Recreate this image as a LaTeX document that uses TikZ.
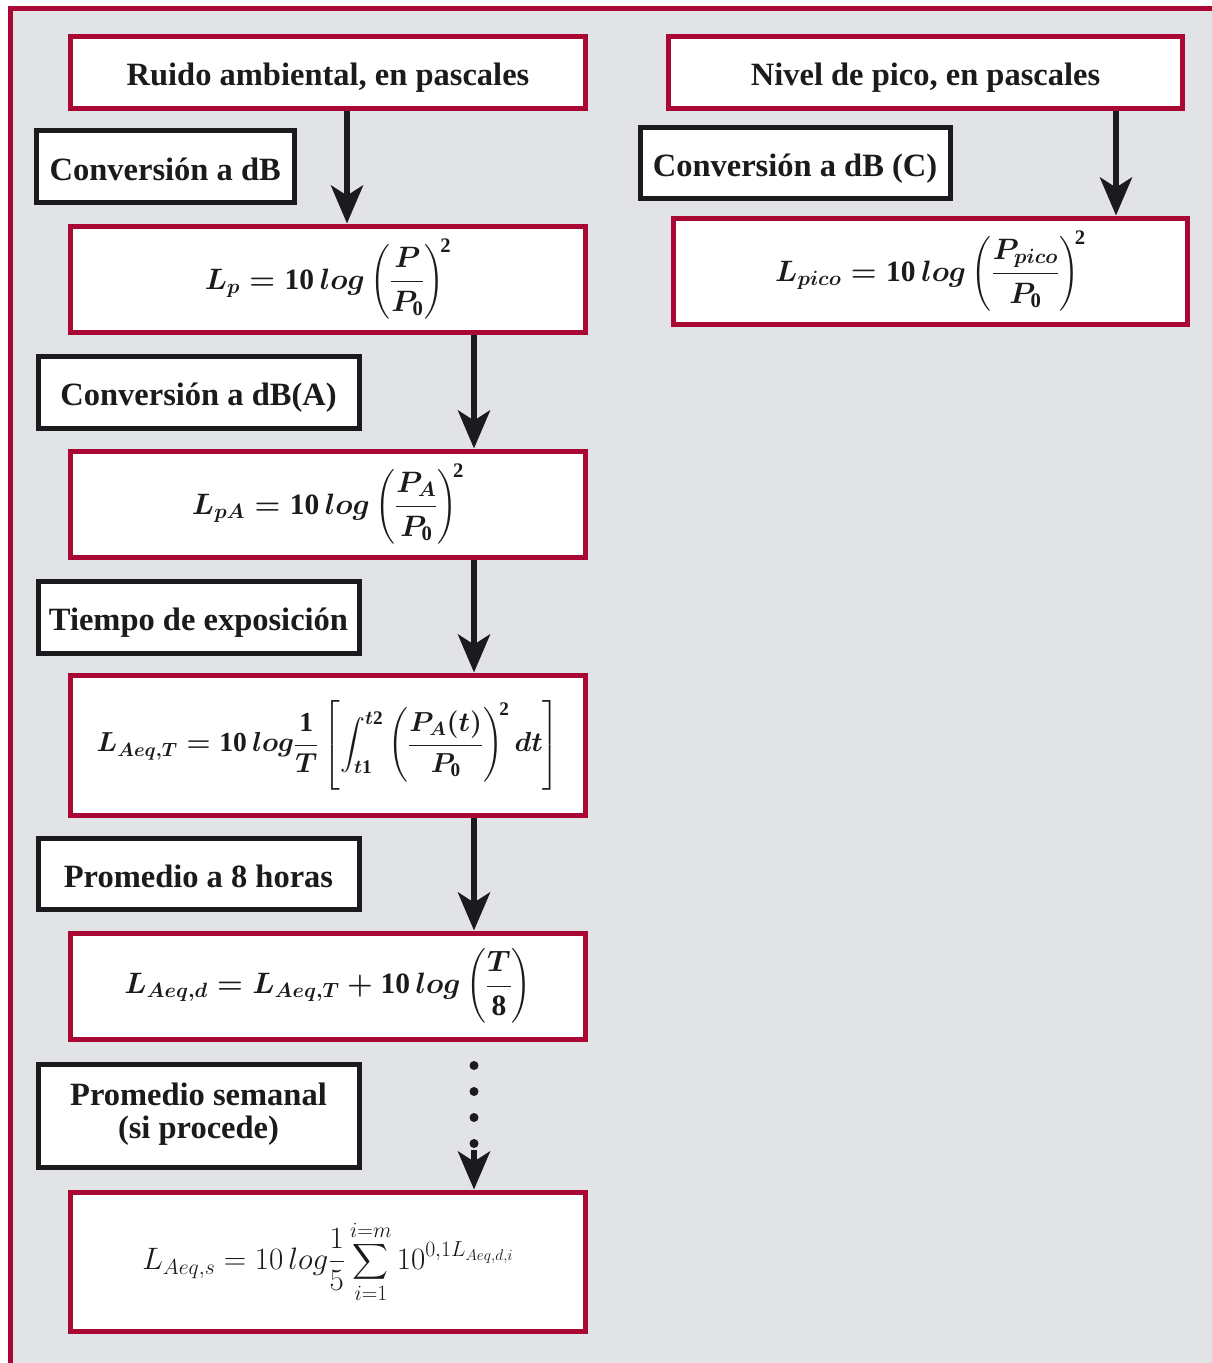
\RequirePackage{fix-cm}
\documentclass[tikz,border=0pt]{standalone}
\usepackage{exscale}
\usepackage{amsmath}
\usepackage[no-math]{fontspec}
\newfontfamily\lblserif{Liberation Serif}
\usetikzlibrary{arrows.meta,calc}
\definecolor{framered}{RGB}{170,8,52}
\definecolor{bggrey}{RGB}{226,227,230}
\definecolor{ink}{RGB}{28,26,28}
\newcommand\lblfont{\lblserif\fontsize{32.5}{32}\selectfont\bfseries}
\newcommand\mfont{\fontsize{29.5}{36}\selectfont\boldmath}
\newcommand\mfontT{\fontsize{27.5}{34}\selectfont\boldmath}
\newcommand\mfontr{\fontsize{31}{36}\selectfont}
\newcommand\bn[1]{\text{\lblserif\bfseries #1}}
\pgfdeclarelayer{bglayer}
\pgfdeclarelayer{arrlayer}
\pgfsetlayers{bglayer,arrlayer,main}
\begin{document}
\begin{tikzpicture}[x=1pt,y=-1pt,
  redbox/.style={draw=framered, line width=5pt, fill=white, inner sep=0pt, text=ink, font=\mfont},
  lblbox/.style={draw=ink, line width=5pt, fill=white, inner sep=0pt, text=ink, font=\lblfont, align=center},
  onelinetext/.style={text height=27pt, text depth=0pt},
  titlebox/.style={redbox, font=\lblfont, onelinetext},
  flow/.style={draw=ink, line width=6pt, -{Stealth[length=38pt,width=32pt,inset=10pt]}},
  dotline/.style={draw=ink, line width=9pt, line cap=round, dash pattern=on 0pt off 26pt, dash phase=2pt},
]
\useasboundingbox (0,0) rectangle (1212,1363);
\begin{pgfonlayer}{bglayer}
  \fill[white] (0,0) rectangle (1212,1363);
  \fill[bggrey] (10,8.5) rectangle (1212,1363);
  \draw[framered, line width=5pt] (10,1363) -- (10,8.5) -- (1212,8.5);
\end{pgfonlayer}

% column coordinates
\coordinate (colA) at (347,0);
\coordinate (colB) at (474,0);
\coordinate (colC) at (1116,0);
\coordinate (dotend) at (474,1150);

% left column
\node[titlebox, minimum width=515pt, minimum height=71.5pt] (ruido) at (328,72.25) {Ruido ambiental, en pascales};
\node[lblbox, onelinetext, minimum width=258.5pt, minimum height=72pt] (convdb) at (165.25,166.5) {Conversión a dB};
\node[redbox, minimum width=515pt, minimum height=106pt] (lp) at (328,279)
  {$\displaystyle L_p = \bn{10}\,log\left(\frac{P}{P_{\bn{0}}}\right)^{\!\bn{2}}$};
\node[lblbox, onelinetext, minimum width=321pt, minimum height=72pt] (convA) at (198.5,392) {Conversión a dB(A)};
\node[redbox, minimum width=515pt, minimum height=106pt] (lpa) at (328,504)
  {$\displaystyle L_{pA} = \bn{10}\,log\left(\frac{P_A}{P_{\bn{0}}}\right)^{\!\bn{2}}$};
\node[lblbox, onelinetext, minimum width=321pt, minimum height=72pt] (tiempo) at (198.5,617) {Tiempo de exposición};
\node[redbox, font=\mfontT, minimum width=515pt, minimum height=140pt] (laeqt) at (328,745)
  {$\displaystyle L_{Aeq,T} = \bn{10}\,log\frac{\bn{1}}{T}\left[\int_{t\bn{1}}^{t\bn{2}}\left(\frac{P_A(t)}{P_{\bn{0}}}\right)^{\!\bn{2}} dt\right]$};
\node[lblbox, onelinetext, minimum width=321pt, minimum height=71pt] (prom8) at (198.5,873.5) {Promedio a 8 horas};
\node[redbox, minimum width=515pt, minimum height=106pt] (laeqd) at (328,986)
  {$\displaystyle L_{Aeq,d} = L_{Aeq,T} + \bn{10}\,log\left(\frac{T}{\bn{8}}\right)$};
\node[lblbox, minimum width=321pt, minimum height=103pt] (semanal) at (198.5,1115.5)
  {\raisebox{-4pt}{\begin{tabular}{@{}c@{}}Promedio semanal\\(si procede)\end{tabular}}};
\node[redbox, font=\mfontr, minimum width=515pt, minimum height=139pt] (laeqs) at (328,1261.5)
  {$\displaystyle L_{Aeq,s} = 10\,log\frac{1}{5}\sum_{i=1}^{i=m} 10^{0{,}1L_{Aeq,d,i}}$};

% right column
\node[titlebox, minimum width=514pt, minimum height=71.5pt] (nivel) at (925.5,72.25) {Nivel de pico, en pascales};
\node[lblbox, onelinetext, minimum width=310pt, minimum height=71.5pt] (convC) at (795,162.75) {Conversión a dB (C)};
\node[redbox, minimum width=514pt, minimum height=106pt] (lpico) at (930.5,271)
  {$\displaystyle L_{pico} = \bn{10}\,log\left(\frac{P_{pico}}{P_{\bn{0}}}\right)^{\!\bn{2}}$};

% connectors
\begin{pgfonlayer}{arrlayer}
  \draw[flow] (ruido.south -| colA) -- (lp.north -| colA);
  \draw[flow] (lp.south -| colB) -- (lpa.north -| colB);
  \draw[flow] (lpa.south -| colB) -- (laeqt.north -| colB);
  \draw[flow] (laeqt.south -| colB) -- (laeqd.north -| colB);
  \draw[dotline] (laeqd.south -| colB) -- (dotend);
  \draw[flow] (dotend) -- (laeqs.north -| colB);
  \draw[flow] (nivel.south -| colC) -- (lpico.north -| colC);
\end{pgfonlayer}
\end{tikzpicture}
\end{document}
